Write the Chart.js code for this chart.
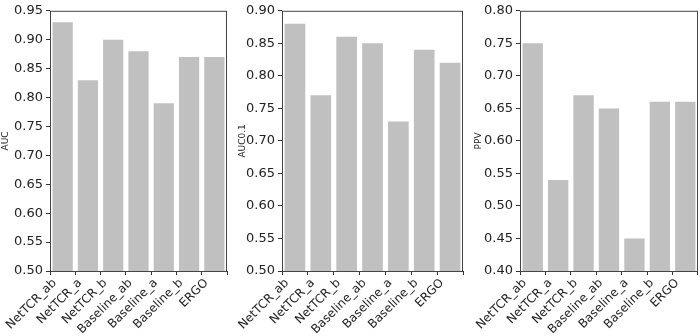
<!DOCTYPE html>
<html>
<head>
<meta charset="utf-8">
<script src="https://cdn.jsdelivr.net/npm/chart.js@4"></script>
<style>
  body { margin: 0; background: #fff; }
  #wrap { position: relative; width: 700px; height: 336px; }
  #wrap canvas { position: absolute; left: 0; top: 0; }
</style>
</head>
<body>
<div id="wrap">
  <canvas id="c1" width="700" height="336"></canvas>
  <canvas id="c2" width="700" height="336"></canvas>
  <canvas id="c3" width="700" height="336"></canvas>
</div>
<script>
const methods = ["NetTCR_ab", "NetTCR_a", "NetTCR_b", "Baseline_ab", "Baseline_a", "Baseline_b", "ERGO"];
const auc = [0.93, 0.83, 0.90, 0.88, 0.79, 0.87, 0.87];
const auc01 = [0.88, 0.77, 0.86, 0.85, 0.73, 0.84, 0.82];
const ppv = [0.75, 0.54, 0.67, 0.65, 0.45, 0.66, 0.66];

// box around the plot area, like matplotlib spines
const boxPlugin = {
  id: "box",
  afterDraw(chart) {
    const a = chart.chartArea;
    const c = chart.ctx;
    c.save();
    c.strokeStyle = "#444";
    c.lineWidth = 1;
    c.strokeRect(a.left + 0.5, a.top + 0.5, a.right - a.left - 1, a.bottom - a.top);
    c.restore();
  },
};

const makeChart = (id, values, title, yMin, yMax, padLeft, padRight, axisWidth) => {
  const ctx = document.getElementById(id);
  return new Chart(ctx, {
    type: "bar",
    data: {
      labels: methods,
      datasets: [
        {
          data: values,
          backgroundColor: "#c0c0c0",
          borderWidth: 0,
          barPercentage: 0.8,
          categoryPercentage: 1.0,
        },
      ],
    },
    options: {
      responsive: false,
      animation: false,
      layout: { padding: { left: padLeft, right: padRight, top: 5, bottom: 0 } },
      plugins: { legend: { display: false }, tooltip: { enabled: false } },
      scales: {
        x: {
          grid: { drawOnChartArea: false, tickLength: 4, color: "#333" },
          border: { display: false },
          ticks: {
            color: "#222",
            font: { family: "DejaVu Sans", size: 12 },
            minRotation: 45,
            maxRotation: 45,
            padding: 1,
            labelOffset: -8,
            autoSkip: false,
          },
          afterFit: (s) => { s.height = 65; },
        },
        y: {
          min: yMin,
          max: yMax,
          grid: { drawOnChartArea: false, tickLength: 4, color: "#333" },
          border: { display: false },
          ticks: {
            stepSize: 0.05,
            color: "#222",
            font: { family: "DejaVu Sans", size: 13 },
            padding: 3,
            callback: (v) => v.toFixed(2),
          },
          title: {
            display: true,
            text: title,
            color: "#222",
            font: { family: "DejaVu Sans", size: 9 },
            padding: 0,
          },
          afterFit: (s) => { s.width = axisWidth; },
        },
      },
    },
    plugins: [boxPlugin],
  });
};

makeChart("c1", auc, "AUC", 0.5, 0.95, 0, 473, 50);
makeChart("c2", auc01, "AUC0.1", 0.5, 0.9, 237, 237, 45);
makeChart("c3", ppv, "PPV", 0.4, 0.8, 473, 2, 47);
</script>
</body>
</html>
